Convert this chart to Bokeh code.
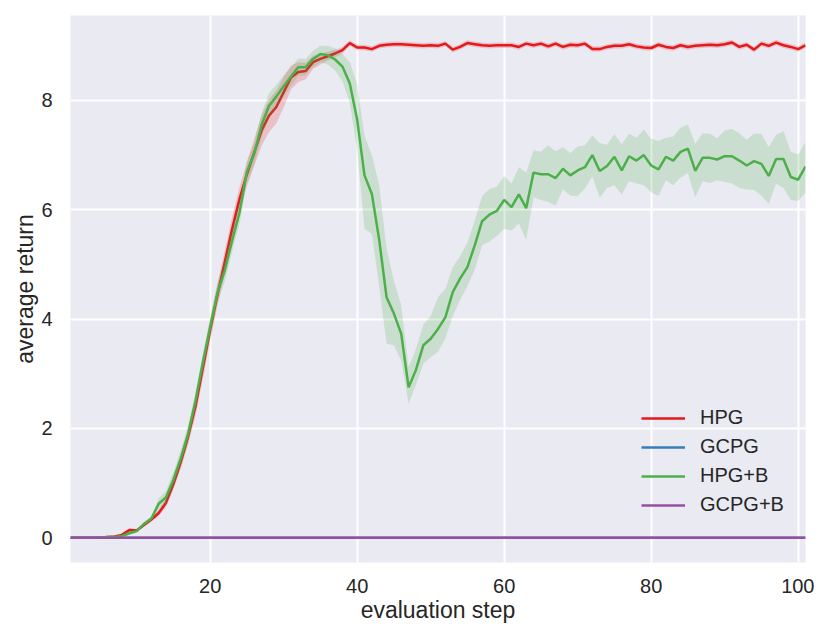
from bokeh.plotting import figure
from bokeh.models import Range1d, FixedTicker, Legend, LegendItem
from bokeh.embed import file_html
from bokeh.resources import INLINE

steps = list(range(1, 102))

hpg = [0.0, 0.0, 0.0, 0.0, 0.0, 0.01, 0.02,
       0.05, 0.14, 0.13, 0.23, 0.33, 0.45, 0.64,
       0.98, 1.38, 1.85, 2.40, 3.10, 3.80, 4.45,
       5.05, 5.65, 6.20, 6.65, 7.05, 7.45, 7.72,
       7.88, 8.15, 8.42, 8.52, 8.54, 8.70, 8.76,
       8.81, 8.86, 8.92, 9.05, 8.97, 8.97, 8.94,
       9.00, 9.02, 9.03, 9.03, 9.02, 9.01, 9.00,
       9.01, 9.00, 9.04, 8.93, 8.98, 9.05, 9.03,
       9.01, 9.00, 9.01, 9.01, 9.01, 8.98, 9.04,
       9.01, 9.04, 8.99, 9.04, 8.98, 9.02, 9.01,
       9.04, 8.94, 8.94, 8.98, 9.00, 9.00, 9.03,
       8.99, 8.97, 8.96, 9.02, 8.98, 8.96, 9.01,
       8.98, 9.00, 9.01, 9.02, 9.01, 9.03, 9.06,
       8.98, 9.02, 8.93, 9.04, 9.00, 9.06, 9.01,
       8.98, 8.94, 9.01]

hpg_err = [0.01, 0.01, 0.01, 0.01, 0.01, 0.01, 0.01,
           0.03, 0.03, 0.03, 0.03, 0.04, 0.06, 0.08,
           0.10, 0.12, 0.15, 0.18, 0.20, 0.20, 0.20,
           0.22, 0.22, 0.22, 0.22, 0.25, 0.28, 0.30,
           0.30, 0.28, 0.22, 0.18, 0.15, 0.12, 0.10,
           0.08, 0.07, 0.06, 0.05, 0.05, 0.05, 0.05,
           0.05, 0.05, 0.05, 0.05, 0.05, 0.05, 0.05,
           0.05, 0.05, 0.05, 0.05, 0.05, 0.05, 0.05,
           0.05, 0.05, 0.05, 0.05, 0.05, 0.05, 0.05,
           0.05, 0.05, 0.05, 0.05, 0.05, 0.05, 0.05,
           0.05, 0.05, 0.05, 0.05, 0.05, 0.05, 0.05,
           0.05, 0.05, 0.05, 0.05, 0.05, 0.05, 0.05,
           0.05, 0.05, 0.05, 0.05, 0.05, 0.05, 0.05,
           0.05, 0.05, 0.05, 0.05, 0.05, 0.05, 0.05,
           0.05, 0.05, 0.05]

gcpg = [0.0, 0.0, 0.0, 0.0, 0.0, 0.0, 0.0, 0.0, 0.0, 0.0,
        0.0, 0.0, 0.0, 0.0, 0.0, 0.0, 0.0, 0.0, 0.0, 0.0,
        0.0, 0.0, 0.0, 0.0, 0.0, 0.0, 0.0, 0.0, 0.0, 0.0,
        0.0, 0.0, 0.0, 0.0, 0.0, 0.0, 0.0, 0.0, 0.0, 0.0,
        0.0, 0.0, 0.0, 0.0, 0.0, 0.0, 0.0, 0.0, 0.0, 0.0,
        0.0, 0.0, 0.0, 0.0, 0.0, 0.0, 0.0, 0.0, 0.0, 0.0,
        0.0, 0.0, 0.0, 0.0, 0.0, 0.0, 0.0, 0.0, 0.0, 0.0,
        0.0, 0.0, 0.0, 0.0, 0.0, 0.0, 0.0, 0.0, 0.0, 0.0,
        0.0, 0.0, 0.0, 0.0, 0.0, 0.0, 0.0, 0.0, 0.0, 0.0,
        0.0, 0.0, 0.0, 0.0, 0.0, 0.0, 0.0, 0.0, 0.0, 0.0,
        0.0]

hpg_b = [0.0, 0.0, 0.0, 0.0, 0.0, 0.01, 0.01,
         0.03, 0.08, 0.12, 0.25, 0.35, 0.62, 0.74,
         1.06, 1.45, 1.90, 2.50, 3.20, 3.85, 4.48,
         4.89, 5.44, 5.95, 6.69, 7.03, 7.55, 7.90,
         8.07, 8.26, 8.44, 8.61, 8.61, 8.76, 8.85,
         8.83, 8.75, 8.62, 8.31, 7.65, 6.63, 6.29,
         5.45, 4.40, 4.10, 3.73, 2.75, 3.07, 3.52,
         3.64, 3.82, 4.03, 4.49, 4.74, 4.95, 5.35,
         5.79, 5.91, 5.98, 6.18, 6.05, 6.28, 6.03,
         6.68, 6.65, 6.65, 6.58, 6.75, 6.63, 6.72,
         6.78, 7.00, 6.71, 6.80, 6.97, 6.72, 6.98,
         6.90, 7.00, 6.81, 6.74, 6.97, 6.90, 7.06,
         7.12, 6.71, 6.95, 6.95, 6.92, 6.98, 6.98,
         6.90, 6.81, 6.89, 6.84, 6.62, 6.93, 6.93,
         6.60, 6.55, 6.79]

hpg_b_lo = [0.0, 0.0, 0.0, 0.0, 0.0, 0.0, 0.0,
            0.01, 0.05, 0.09, 0.21, 0.31, 0.52, 0.62,
            0.92, 1.30, 1.75, 2.34, 3.03, 3.67, 4.29,
            4.69, 5.24, 5.75, 6.49, 6.83, 7.33, 7.67,
            7.85, 8.06, 8.27, 8.45, 8.46, 8.61, 8.70,
            8.66, 8.55, 8.35, 7.96, 7.10, 5.65, 5.56,
            4.60, 3.55, 3.52, 3.24, 2.45, 2.80, 3.18,
            3.30, 3.40, 3.65, 4.05, 4.35, 4.60, 4.90,
            5.35, 5.42, 5.52, 5.65, 5.62, 5.75, 5.45,
            6.23, 6.18, 6.14, 6.08, 6.37, 6.26, 6.25,
            6.39, 6.61, 6.22, 6.40, 6.45, 6.28, 6.52,
            6.48, 6.45, 6.32, 6.25, 6.54, 6.45, 6.59,
            6.67, 6.23, 6.52, 6.49, 6.54, 6.51, 6.48,
            6.40, 6.37, 6.36, 6.26, 6.11, 6.48, 6.40,
            6.18, 6.16, 6.32]

hpg_b_hi = [0.01, 0.01, 0.01, 0.01, 0.01, 0.02, 0.02,
            0.05, 0.11, 0.15, 0.29, 0.39, 0.72, 0.86,
            1.20, 1.60, 2.05, 2.66, 3.37, 4.03, 4.67,
            5.09, 5.64, 6.15, 6.89, 7.23, 7.77, 8.13,
            8.29, 8.46, 8.61, 8.77, 8.76, 8.91, 9.00,
            9.00, 8.95, 8.85, 8.70, 8.30, 7.35, 7.00,
            6.45, 5.30, 4.70, 4.25, 3.12, 3.45, 3.90,
            4.05, 4.40, 4.55, 4.95, 5.15, 5.40, 5.80,
            6.25, 6.38, 6.42, 6.62, 6.48, 6.78, 6.68,
            7.09, 7.06, 7.18, 7.07, 7.15, 7.04, 7.16,
            7.18, 7.36, 7.22, 7.19, 7.38, 7.20, 7.39,
            7.32, 7.47, 7.30, 7.26, 7.32, 7.34, 7.50,
            7.56, 7.21, 7.40, 7.39, 7.31, 7.45, 7.48,
            7.40, 7.28, 7.39, 7.39, 7.15, 7.37, 7.44,
            7.06, 7.01, 7.24]

gcpg_b = [0.0, 0.0, 0.0, 0.0, 0.0, 0.0, 0.0, 0.0, 0.0, 0.0,
          0.0, 0.0, 0.0, 0.0, 0.0, 0.0, 0.0, 0.0, 0.0, 0.0,
          0.0, 0.0, 0.0, 0.0, 0.0, 0.0, 0.0, 0.0, 0.0, 0.0,
          0.0, 0.0, 0.0, 0.0, 0.0, 0.0, 0.0, 0.0, 0.0, 0.0,
          0.0, 0.0, 0.0, 0.0, 0.0, 0.0, 0.0, 0.0, 0.0, 0.0,
          0.0, 0.0, 0.0, 0.0, 0.0, 0.0, 0.0, 0.0, 0.0, 0.0,
          0.0, 0.0, 0.0, 0.0, 0.0, 0.0, 0.0, 0.0, 0.0, 0.0,
          0.0, 0.0, 0.0, 0.0, 0.0, 0.0, 0.0, 0.0, 0.0, 0.0,
          0.0, 0.0, 0.0, 0.0, 0.0, 0.0, 0.0, 0.0, 0.0, 0.0,
          0.0, 0.0, 0.0, 0.0, 0.0, 0.0, 0.0, 0.0, 0.0, 0.0,
          0.0]

series_names = ["HPG", "GCPG", "HPG+B", "GCPG+B"]
x_ticks = [20, 40, 60, 80, 100]
y_ticks = [0, 2, 4, 6, 8]

colors = ["#e41a1c", "#377eb8", "#4daf4a", "#984ea3"]
FONT = "Liberation Sans"
TXT = "#262626"

p = figure(width=814, height=625, output_backend="svg", toolbar_location=None,
           x_range=Range1d(1, 101), y_range=Range1d(-0.455, 9.555),
           min_border_left=70, min_border_right=9, min_border_top=15, min_border_bottom=63)
p.background_fill_color = "#eaeaf2"
p.border_fill_color = "white"
p.outline_line_color = None

for ax in (p.xaxis[0], p.yaxis[0]):
    ax.axis_line_color = None
    ax.major_tick_line_color = None
    ax.minor_tick_line_color = None
    ax.major_label_text_font = FONT
    ax.major_label_text_font_size = "20px"
    ax.major_label_text_color = TXT
    ax.axis_label_text_font = FONT
    ax.axis_label_text_font_size = "23px"
    ax.axis_label_text_font_style = "normal"
    ax.axis_label_text_color = TXT

p.xaxis.ticker = FixedTicker(ticks=x_ticks)
p.yaxis.ticker = FixedTicker(ticks=y_ticks)
p.xaxis.axis_label = "evaluation step"
p.yaxis.axis_label = "average return"
p.xaxis.major_label_standoff = 10
p.yaxis.major_label_standoff = 12
p.xaxis.axis_label_standoff = 1
p.yaxis.axis_label_standoff = 0

p.xgrid.grid_line_color = "white"
p.ygrid.grid_line_color = "white"
p.xgrid.grid_line_width = 2
p.ygrid.grid_line_width = 2

lo_hpg = [m - e for m, e in zip(hpg, hpg_err)]
hi_hpg = [m + e for m, e in zip(hpg, hpg_err)]

means = [hpg, gcpg, hpg_b, gcpg_b]
lows = [lo_hpg, gcpg, hpg_b_lo, gcpg_b]
highs = [hi_hpg, gcpg, hpg_b_hi, gcpg_b]

lines = []
for name, m, lo, hi, c in zip(series_names, means, lows, highs, colors):
    r = p.line(steps, m, line_color=c, line_width=2.5)
    p.varea(x=steps, y1=lo, y2=hi, fill_color=c, fill_alpha=0.2)
    lines.append(r)

legend = Legend(items=[LegendItem(label=n, renderers=[r]) for n, r in zip(series_names, lines)],
                location=(571, 46))
legend.background_fill_alpha = 0
legend.border_line_color = None
legend.padding = 0
legend.margin = 0
legend.spacing = 6
legend.glyph_width = 44
legend.glyph_height = 20
legend.label_height = 20
legend.label_standoff = 15
legend.label_text_font = FONT
legend.label_text_font_size = "20px"
legend.label_text_color = TXT
p.add_layout(legend, "center")

open("out.html", "w").write(file_html(p, INLINE))
